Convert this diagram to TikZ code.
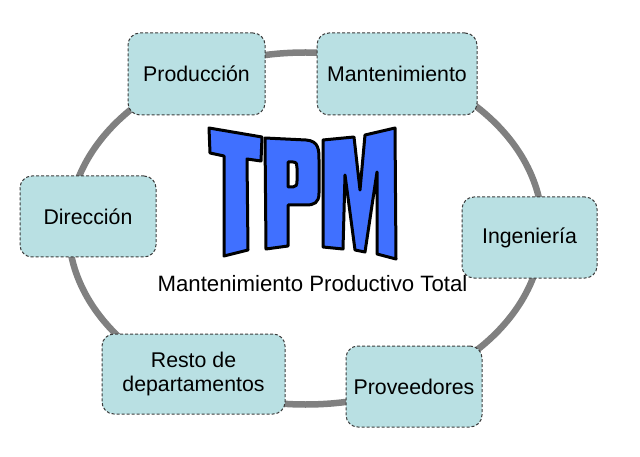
\documentclass[tikz,border=0pt]{standalone}
\usepackage{fontspec}
\setmainfont{Liberation Sans}
\usetikzlibrary{shapes.geometric}
\definecolor{boxfill}{RGB}{185,224,227}
\definecolor{boxline}{RGB}{60,60,60}
\definecolor{ringgray}{RGB}{128,128,128}
\definecolor{tpmblue}{RGB}{64,112,255}

\begin{document}
\begin{tikzpicture}[
    x=1pt, y=-1pt,
    font=\fontsize{21.3}{24.5}\selectfont
]
\tikzset{
    areanode/.style = {draw=boxline, dash pattern=on 3pt off 2pt, line width=1pt, rounded corners=12pt, fill=boxfill, align=center, inner sep=0pt},
    ringnode/.style = {ellipse, draw=ringgray, line width=6.5pt, inner sep=0pt, outer sep=0pt},
    letter/.style = {fill=tpmblue, draw=black, line width=3pt, line join=round}
}
\useasboundingbox (0,0) rectangle (640,457);
\node[ringnode, minimum width=474pt, minimum height=352pt] at (305.5,228.5) (ring) {};
\node[areanode, minimum width=137pt, minimum height=82pt] at (196.5,74) (prod) {Producción};
\node[areanode, minimum width=160pt, minimum height=82pt] at (397,74) (mant) {Mantenimiento};
\node[areanode, minimum width=136pt, minimum height=81pt] at (88,216.5) (dir) {Dirección};
\node[areanode, minimum width=135pt, minimum height=81pt] at (529.5,237.5) (ing) {Ingeniería};
\node[areanode, minimum width=183pt, minimum height=80pt] at (193.5,374) (resto) {Resto de\\departamentos};
\node[areanode, minimum width=136pt, minimum height=81pt] at (414,386.5) (prov) {Proveedores};
\draw[letter] (209,128) -- (262,137) -- (261,161) -- (247,159) -- (248,250) -- (224,256) -- (224,156) -- (210,153) -- cycle;
\draw[letter, even odd rule] (265,138) -- (306,140) .. controls (319,141) and (319,150) .. (319,160) -- (319,193) .. controls (319,203) and (314,205) .. (306,205) -- (288,205) -- (288,246) -- (266,249) -- cycle
    (288,162) -- (293,162) .. controls (297,162) and (297,165) .. (297,168) -- (297,181) .. controls (297,185) and (296,187) .. (293,187) -- (288,187) -- cycle;
\draw[letter] (323,140) -- (354,137) -- (360,190) -- (365,135) -- (395,128) -- (396,259) -- (377,254) -- (377,172) -- (365,252) -- (355,250) -- (345,175) -- (343,249) -- (323,247) -- cycle;
\node[anchor=base, font=\fontsize{22.2}{26}\selectfont] at (312.5,291.5) (sub) {Mantenimiento Productivo Total};
\end{tikzpicture}
\end{document}
